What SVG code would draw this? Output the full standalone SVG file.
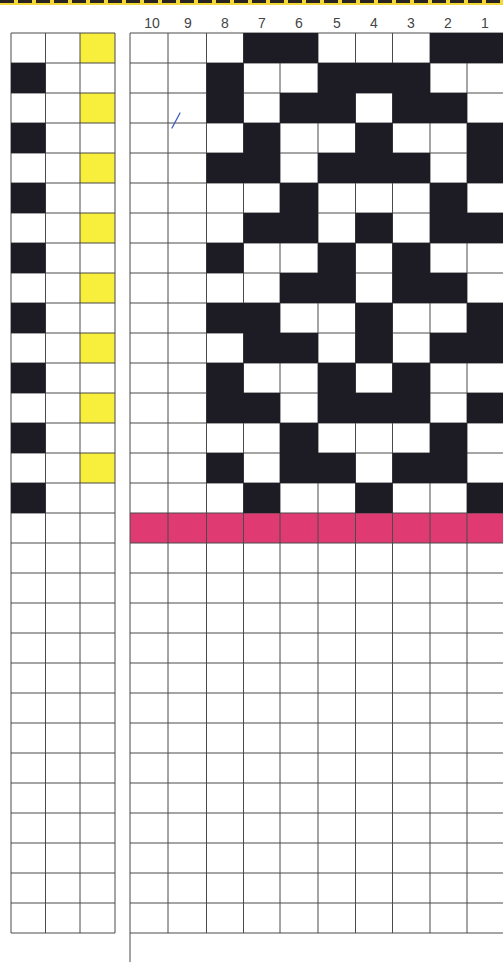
<svg xmlns="http://www.w3.org/2000/svg" width="503" height="962" viewBox="0 0 503 962">
<style>
.k{fill:#1d1c24}
.y{fill:#f8ee3c}
.p{fill:#e03a72}
.g{fill:none;stroke:#4a4a4a;stroke-width:1}
.n{font-family:"Liberation Sans",Arial,sans-serif;font-size:14px;fill:#444444;text-anchor:middle}
</style>
<rect width="503" height="962" fill="#ffffff"/>
<g id="top-band">
<rect x="0" y="0" width="503" height="5" fill="#f3d83a"/>
<line x1="0" y1="1.5" x2="503" y2="1.5" stroke="#2a2420" stroke-width="3" stroke-dasharray="14 4"/>
</g>
<g id="column-numbers">
<text class="n" x="152" y="28">10</text>
<text class="n" x="188" y="28">9</text>
<text class="n" x="225" y="28">8</text>
<text class="n" x="262" y="28">7</text>
<text class="n" x="299" y="28">6</text>
<text class="n" x="337" y="28">5</text>
<text class="n" x="374" y="28">4</text>
<text class="n" x="411" y="28">3</text>
<text class="n" x="448" y="28">2</text>
<text class="n" x="485" y="28">1</text>
</g>
<g id="left-grid">
<rect class="y" x="80" y="33" width="35" height="30"/>
<rect class="y" x="80" y="93" width="35" height="30"/>
<rect class="y" x="80" y="153" width="35" height="30"/>
<rect class="y" x="80" y="213" width="35" height="30"/>
<rect class="y" x="80" y="273" width="35" height="30"/>
<rect class="y" x="80" y="333" width="35" height="30"/>
<rect class="y" x="80" y="393" width="35" height="30"/>
<rect class="y" x="80" y="453" width="35" height="30"/>
<path class="g" d="M11 33V933M45.5 33V933M80 33V933M115 33V933
M11 33H115M11 63H115M11 93H115M11 123H115M11 153H115M11 183H115M11 213H115M11 243H115M11 273H115M11 303H115
M11 333H115M11 363H115M11 393H115M11 423H115M11 453H115M11 483H115M11 513H115M11 543H115M11 573H115M11 603H115
M11 633H115M11 663H115M11 693H115M11 723H115M11 753H115M11 783H115M11 813H115M11 843H115M11 873H115M11 903H115M11 933H115"/>
<rect class="k" x="11" y="63" width="34.5" height="30"/>
<rect class="k" x="11" y="123" width="34.5" height="30"/>
<rect class="k" x="11" y="183" width="34.5" height="30"/>
<rect class="k" x="11" y="243" width="34.5" height="30"/>
<rect class="k" x="11" y="303" width="34.5" height="30"/>
<rect class="k" x="11" y="363" width="34.5" height="30"/>
<rect class="k" x="11" y="423" width="34.5" height="30"/>
<rect class="k" x="11" y="483" width="34.5" height="30"/>
</g>
<g id="pattern-grid">
<rect class="p" x="130" y="513" width="374" height="30"/>
<path class="g" d="M130 33V962M168 33V933M206.5 33V933M243.5 33V933M280 33V933M318 33V933M355.5 33V933M392.5 33V933M430 33V933M467 33V933
M130 33H504M130 63H504M130 93H504M130 123H504M130 153H504M130 183H504M130 213H504M130 243H504M130 273H504M130 303H504
M130 333H504M130 363H504M130 393H504M130 423H504M130 453H504M130 483H504M130 513H504M130 543H504M130 573H504M130 603H504
M130 633H504M130 663H504M130 693H504M130 723H504M130 753H504M130 783H504M130 813H504M130 843H504M130 873H504M130 903H504M130 933H504"/>
<rect class="k" x="243.5" y="33" width="74.5" height="30"/>
<rect class="k" x="430" y="33" width="74" height="30"/>
<rect class="k" x="206.5" y="63" width="37" height="30"/>
<rect class="k" x="318" y="63" width="112" height="30"/>
<rect class="k" x="206.5" y="93" width="37" height="30"/>
<rect class="k" x="280" y="93" width="75.5" height="30"/>
<rect class="k" x="392.5" y="93" width="74.5" height="30"/>
<rect class="k" x="243.5" y="123" width="36.5" height="30"/>
<rect class="k" x="355.5" y="123" width="37" height="30"/>
<rect class="k" x="467" y="123" width="37" height="30"/>
<rect class="k" x="206.5" y="153" width="73.5" height="30"/>
<rect class="k" x="318" y="153" width="112" height="30"/>
<rect class="k" x="467" y="153" width="37" height="30"/>
<rect class="k" x="280" y="183" width="38" height="30"/>
<rect class="k" x="430" y="183" width="37" height="30"/>
<rect class="k" x="243.5" y="213" width="74.5" height="30"/>
<rect class="k" x="355.5" y="213" width="37" height="30"/>
<rect class="k" x="430" y="213" width="74" height="30"/>
<rect class="k" x="206.5" y="243" width="37" height="30"/>
<rect class="k" x="318" y="243" width="37.5" height="30"/>
<rect class="k" x="392.5" y="243" width="37.5" height="30"/>
<rect class="k" x="280" y="273" width="75.5" height="30"/>
<rect class="k" x="392.5" y="273" width="74.5" height="30"/>
<rect class="k" x="206.5" y="303" width="73.5" height="30"/>
<rect class="k" x="355.5" y="303" width="37" height="30"/>
<rect class="k" x="467" y="303" width="37" height="30"/>
<rect class="k" x="243.5" y="333" width="74.5" height="30"/>
<rect class="k" x="355.5" y="333" width="37" height="30"/>
<rect class="k" x="430" y="333" width="74" height="30"/>
<rect class="k" x="206.5" y="363" width="37" height="30"/>
<rect class="k" x="318" y="363" width="37.5" height="30"/>
<rect class="k" x="392.5" y="363" width="37.5" height="30"/>
<rect class="k" x="206.5" y="393" width="73.5" height="30"/>
<rect class="k" x="318" y="393" width="112" height="30"/>
<rect class="k" x="467" y="393" width="37" height="30"/>
<rect class="k" x="280" y="423" width="38" height="30"/>
<rect class="k" x="430" y="423" width="37" height="30"/>
<rect class="k" x="206.5" y="453" width="37" height="30"/>
<rect class="k" x="280" y="453" width="75.5" height="30"/>
<rect class="k" x="392.5" y="453" width="74.5" height="30"/>
<rect class="k" x="243.5" y="483" width="36.5" height="30"/>
<rect class="k" x="355.5" y="483" width="37" height="30"/>
<rect class="k" x="467" y="483" width="37" height="30"/>
</g>
<path id="pen-mark" d="M172 128L180 113" stroke="#3a5cc0" stroke-width="1.3" fill="none" stroke-linecap="round"/>
</svg>
